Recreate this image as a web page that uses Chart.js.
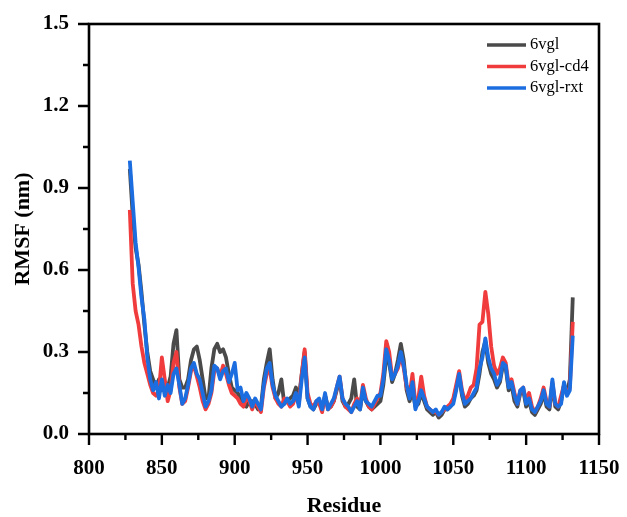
<!DOCTYPE html>
<html>
<head>
<meta charset="utf-8">
<script src="https://cdn.jsdelivr.net/npm/chart.js@4.4.1/dist/chart.umd.min.js"></script>
<style>
  html, body { margin: 0; padding: 0; background: #fff; }
  #wrap { width: 627px; height: 517px; }
</style>
</head>
<body>
<div id="wrap"><canvas id="rmsf" width="627" height="517"></canvas></div>
<script>
// Residue numbers (every 2nd residue)
const residues = [
  828, 830, 832, 834, 836, 838, 840, 842, 844, 846, 848, 850, 852, 854, 856, 858, 860, 862, 864, 866,
  868, 870, 872, 874, 876, 878, 880, 882, 884, 886, 888, 890, 892, 894, 896, 898, 900, 902, 904, 906,
  908, 910, 912, 914, 916, 918, 920, 922, 924, 926, 928, 930, 932, 934, 936, 938, 940, 942, 944, 946,
  948, 950, 952, 954, 956, 958, 960, 962, 964, 966, 968, 970, 972, 974, 976, 978, 980, 982, 984, 986,
  988, 990, 992, 994, 996, 998, 1000, 1002, 1004, 1006, 1008, 1010, 1012, 1014, 1016, 1018, 1020, 1022, 1024, 1026,
  1028, 1030, 1032, 1034, 1036, 1038, 1040, 1042, 1044, 1046, 1048, 1050, 1052, 1054, 1056, 1058, 1060, 1062, 1064, 1066,
  1068, 1070, 1072, 1074, 1076, 1078, 1080, 1082, 1084, 1086, 1088, 1090, 1092, 1094, 1096, 1098, 1100, 1102, 1104, 1106,
  1108, 1110, 1112, 1114, 1116, 1118, 1120, 1122, 1124, 1126, 1128, 1130, 1132
];

// RMSF (nm) per series
const rmsf6vgl = [
  0.97, 0.80, 0.68, 0.62, 0.52, 0.40, 0.30, 0.23, 0.20, 0.17, 0.20, 0.16, 0.19, 0.17, 0.21, 0.33, 0.38, 0.20, 0.17, 0.17,
  0.20, 0.27, 0.31, 0.32, 0.27, 0.20, 0.13, 0.13, 0.24, 0.31, 0.33, 0.30, 0.31, 0.28, 0.22, 0.17, 0.16, 0.15, 0.13, 0.11,
  0.10, 0.12, 0.12, 0.11, 0.09, 0.10, 0.20, 0.26, 0.31, 0.20, 0.13, 0.15, 0.20, 0.11, 0.12, 0.13, 0.14, 0.17, 0.13, 0.22,
  0.30, 0.13, 0.10, 0.09, 0.11, 0.12, 0.09, 0.14, 0.10, 0.10, 0.12, 0.16, 0.20, 0.12, 0.10, 0.11, 0.13, 0.20, 0.10, 0.09,
  0.16, 0.12, 0.10, 0.09, 0.10, 0.11, 0.12, 0.18, 0.28, 0.26, 0.19, 0.22, 0.27, 0.33, 0.27, 0.16, 0.12, 0.16, 0.10, 0.11,
  0.15, 0.12, 0.09, 0.08, 0.07, 0.08, 0.06, 0.07, 0.09, 0.09, 0.10, 0.12, 0.17, 0.21, 0.14, 0.10, 0.11, 0.13, 0.14, 0.16,
  0.22, 0.30, 0.34, 0.26, 0.22, 0.20, 0.17, 0.19, 0.25, 0.24, 0.16, 0.18, 0.12, 0.10, 0.15, 0.16, 0.10, 0.12, 0.08, 0.07,
  0.09, 0.11, 0.15, 0.10, 0.09, 0.18, 0.10, 0.09, 0.12, 0.18, 0.15, 0.20, 0.50
];
const rmsfCd4 = [
  0.82, 0.55, 0.45, 0.40, 0.32, 0.26, 0.22, 0.18, 0.15, 0.14, 0.16, 0.28, 0.20, 0.12, 0.16, 0.26, 0.30, 0.17, 0.11, 0.12,
  0.17, 0.23, 0.25, 0.21, 0.17, 0.12, 0.09, 0.11, 0.15, 0.23, 0.24, 0.21, 0.25, 0.22, 0.18, 0.15, 0.14, 0.13, 0.11, 0.10,
  0.13, 0.12, 0.09, 0.12, 0.10, 0.08, 0.17, 0.22, 0.24, 0.17, 0.13, 0.11, 0.10, 0.13, 0.12, 0.10, 0.11, 0.14, 0.11, 0.22,
  0.31, 0.15, 0.11, 0.10, 0.12, 0.11, 0.08, 0.14, 0.09, 0.10, 0.12, 0.17, 0.21, 0.13, 0.10, 0.09, 0.08, 0.11, 0.13, 0.10,
  0.18, 0.13, 0.10, 0.09, 0.11, 0.13, 0.15, 0.22, 0.34, 0.30, 0.21, 0.22, 0.24, 0.29, 0.24, 0.17, 0.14, 0.22, 0.11, 0.13,
  0.21, 0.14, 0.10, 0.09, 0.08, 0.08, 0.07, 0.08, 0.09, 0.10, 0.11, 0.13, 0.18, 0.23, 0.16, 0.12, 0.14, 0.17, 0.18, 0.24,
  0.40, 0.41, 0.52, 0.44, 0.32, 0.25, 0.22, 0.24, 0.28, 0.26, 0.18, 0.20, 0.15, 0.11, 0.16, 0.17, 0.12, 0.15, 0.10, 0.08,
  0.10, 0.13, 0.17, 0.12, 0.10, 0.19, 0.11, 0.10, 0.14, 0.18, 0.15, 0.17, 0.41
];
const rmsfRxt = [
  1.00, 0.85, 0.70, 0.61, 0.50, 0.42, 0.28, 0.20, 0.16, 0.19, 0.13, 0.20, 0.14, 0.18, 0.15, 0.22, 0.24, 0.18, 0.11, 0.13,
  0.18, 0.24, 0.26, 0.22, 0.20, 0.15, 0.10, 0.12, 0.16, 0.25, 0.24, 0.20, 0.23, 0.24, 0.19, 0.22, 0.26, 0.16, 0.17, 0.12,
  0.15, 0.13, 0.10, 0.13, 0.11, 0.09, 0.18, 0.24, 0.26, 0.18, 0.14, 0.12, 0.10, 0.11, 0.13, 0.11, 0.12, 0.15, 0.10, 0.20,
  0.28, 0.13, 0.10, 0.09, 0.12, 0.13, 0.09, 0.15, 0.09, 0.11, 0.13, 0.17, 0.21, 0.13, 0.11, 0.10, 0.08, 0.10, 0.12, 0.09,
  0.17, 0.12, 0.11, 0.10, 0.12, 0.14, 0.14, 0.20, 0.31, 0.27, 0.20, 0.22, 0.25, 0.30, 0.25, 0.18, 0.13, 0.19, 0.09, 0.12,
  0.16, 0.13, 0.10, 0.09, 0.08, 0.09, 0.07, 0.08, 0.10, 0.09, 0.10, 0.11, 0.16, 0.22, 0.15, 0.11, 0.12, 0.13, 0.15, 0.17,
  0.24, 0.28, 0.35, 0.28, 0.24, 0.22, 0.18, 0.20, 0.26, 0.25, 0.17, 0.19, 0.14, 0.11, 0.16, 0.17, 0.11, 0.13, 0.09, 0.08,
  0.10, 0.12, 0.16, 0.11, 0.10, 0.20, 0.11, 0.10, 0.11, 0.19, 0.14, 0.16, 0.36
];

const xTicks = [800, 850, 900, 950, 1000, 1050, 1100, 1150];
const yTicks = [0.0, 0.3, 0.6, 0.9, 1.2, 1.5];

const serif = '"Liberation Serif", "Times New Roman", serif';

function toPoints(vals) {
  return vals.map((v, i) => ({ x: residues[i], y: v }));
}

// frame, major/minor ticks and legend
const framePlugin = {
  id: 'frame',
  afterDraw(chart) {
    const ctx = chart.ctx;
    const a = chart.chartArea;
    const xs = chart.scales.x;
    const ys = chart.scales.y;
    ctx.save();
    ctx.strokeStyle = '#000';
    ctx.lineWidth = 2.6;
    ctx.strokeRect(a.left, a.top, a.right - a.left, a.bottom - a.top);

    ctx.lineWidth = 2.4;
    ctx.beginPath();
    for (let i = 0; i < xTicks.length; i++) {
      const px = xs.getPixelForValue(xTicks[i]);
      ctx.moveTo(px, a.bottom);
      ctx.lineTo(px, a.bottom + 11);
      if (i < xTicks.length - 1) {
        const mx = xs.getPixelForValue((xTicks[i] + xTicks[i + 1]) / 2);
        ctx.moveTo(mx, a.bottom);
        ctx.lineTo(mx, a.bottom + 6);
      }
    }
    for (let i = 0; i < yTicks.length; i++) {
      const py = ys.getPixelForValue(yTicks[i]);
      ctx.moveTo(a.left, py);
      ctx.lineTo(a.left - 11, py);
      if (i < yTicks.length - 1) {
        const my = ys.getPixelForValue((yTicks[i] + yTicks[i + 1]) / 2);
        ctx.moveTo(a.left, my);
        ctx.lineTo(a.left - 6, my);
      }
    }
    ctx.stroke();

    // legend
    ctx.font = '16.5px ' + serif;
    ctx.textBaseline = 'middle';
    ctx.fillStyle = '#000';
    chart.data.datasets.forEach((ds, i) => {
      const ly = 45 + i * 21.5;
      ctx.strokeStyle = ds.borderColor;
      ctx.lineWidth = 3.5;
      ctx.beginPath();
      ctx.moveTo(487, ly);
      ctx.lineTo(526, ly);
      ctx.stroke();
      ctx.fillText(ds.label, 530, ly);
    });
    ctx.restore();
  }
};

new Chart(document.getElementById('rmsf'), {
  type: 'line',
  data: {
    datasets: [
      { label: '6vgl', data: toPoints(rmsf6vgl), borderColor: '#4a4a4a', order: 3 },
      { label: '6vgl-cd4', data: toPoints(rmsfCd4), borderColor: '#f03c3c', order: 2 },
      { label: '6vgl-rxt', data: toPoints(rmsfRxt), borderColor: '#1c6ee0', order: 1 }
    ]
  },
  options: {
    responsive: false,
    animation: false,
    devicePixelRatio: 1,
    layout: { padding: { left: 0, top: 24, right: 28, bottom: 0 } },
    elements: {
      point: { radius: 0 },
      line: { borderWidth: 3.8, tension: 0, borderJoinStyle: 'round' }
    },
    plugins: { legend: { display: false }, tooltip: { enabled: false } },
    scales: {
      x: {
        type: 'linear',
        min: 800,
        max: 1150,
        afterBuildTicks: s => { s.ticks = xTicks.map(v => ({ value: v })); },
        afterFit: s => { s.height = 83; s.paddingLeft = 0; s.paddingRight = 0; },
        grid: { display: false, drawTicks: false },
        border: { display: false },
        ticks: {
          padding: 22,
          color: '#000',
          maxRotation: 0,
          callback: v => String(v),
          font: { family: serif, size: 21, weight: 'bold' }
        },
        title: {
          display: true,
          text: 'Residue',
          color: '#000',
          padding: { top: 0, bottom: 0 },
          font: { family: serif, size: 22, weight: 'bold', lineHeight: 1 }
        }
      },
      y: {
        min: 0,
        max: 1.5,
        afterBuildTicks: s => { s.ticks = yTicks.map(v => ({ value: v })); },
        afterFit: s => { s.width = 89; s.paddingTop = 0; s.paddingBottom = 0; },
        grid: { display: false, drawTicks: false },
        border: { display: false },
        ticks: {
          padding: 20,
          color: '#000',
          callback: v => v.toFixed(1),
          font: { family: serif, size: 21, weight: 'bold' }
        },
        title: {
          display: true,
          text: 'RMSF (nm)',
          color: '#000',
          padding: { top: 10, bottom: 0 },
          font: { family: serif, size: 22, weight: 'bold' }
        }
      }
    }
  },
  plugins: [framePlugin]
});
</script>
</body>
</html>
